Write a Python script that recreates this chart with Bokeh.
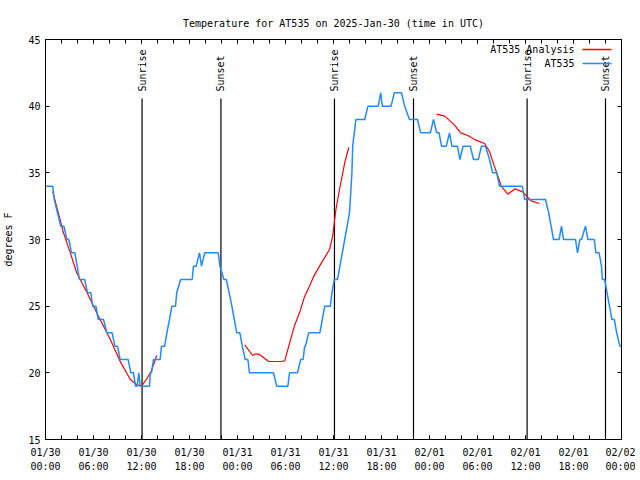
import math
import pandas as pd
from bokeh.plotting import figure
from bokeh.models import (FixedTicker, DatetimeTickFormatter, DatetimeAxis, LinearAxis,
                          Label, Arrow, Range1d, CustomJSTickFormatter)
from bokeh.core.properties import value
from bokeh.embed import file_html
from bokeh.resources import INLINE

START = pd.Timestamp("2025-01-30 00:00")

# observed AT535 temperatures (hours since start, deg F)
obs_hours = [0.1, 0.9, 1.1, 1.5, 1.9, 2.3, 2.67, 2.92, 3.25, 3.67, 3.95, 4.25, 4.9, 5.25, 5.67,
             5.9, 6.3, 6.6, 7.25, 7.67, 8.33, 8.67, 9.0, 9.33, 10.33, 10.67, 11.0, 11.25, 11.45,
             11.67, 11.83, 13.0, 13.1, 13.25, 13.5, 13.83, 14.33, 14.5, 14.9, 15.17, 15.5, 15.8,
             16.25, 16.4, 16.9, 18.33, 18.5, 18.83, 19.25, 19.5, 19.9, 21.6, 21.8, 22.3, 22.6,
             22.96, 23.3, 23.6, 23.9, 24.3, 24.6, 24.96, 25.3, 25.5, 28.5, 28.9, 30.3, 30.5, 31.5,
             31.9, 32.2, 32.4, 32.5, 32.9, 34.3, 34.6, 34.9, 35.6, 35.8, 36.1, 36.5, 36.8, 37.1,
             37.4, 37.7, 38.0, 38.2, 38.3, 38.4, 38.6, 38.8, 39.9, 40.3, 41.6, 41.9, 42.1, 43.2,
             43.6, 44.5, 44.9, 45.5, 46.5, 46.9, 48.1, 48.5, 48.9, 49.2, 49.5, 50.1, 50.5, 50.8,
             51.5, 51.8, 52.2, 53.1, 53.5, 54.1, 54.5, 55.0, 55.5, 55.9, 56.4, 56.75, 59.6, 59.9,
             62.5, 62.9, 63.2, 63.5, 64.2, 64.5, 64.75, 66.25, 66.5, 66.8, 67.0, 67.5, 67.8, 68.6,
             68.8, 69.2, 69.5, 69.6, 69.9, 70.2, 70.5, 70.8, 71.1, 71.4, 71.8, 72.0]
obs_temp = [34, 34, 33, 32, 31, 31, 30, 30, 29, 29, 28, 27, 27, 26, 26,
            25, 25, 24, 24, 23, 23, 22, 22, 21, 21, 20, 20, 19, 19,
            20, 19, 19, 20, 20, 21, 21, 21, 22, 22, 23, 24, 25,
            25, 26, 27, 27, 28, 28, 29, 28, 29, 29, 28, 27, 27,
            26, 25, 24, 23, 23, 22, 21, 21, 20, 20, 19, 19, 20, 20,
            21, 21, 22, 22, 23, 23, 24, 25, 25, 26, 27, 27, 28, 29,
            30, 31, 32, 34, 35, 37, 38, 39, 39, 40, 40, 41, 40, 40,
            41, 41, 40, 39, 39, 38, 38, 39, 38, 38, 37, 37, 38, 37,
            37, 36, 37, 37, 36, 36, 37, 37, 36, 35, 35, 34, 34, 33,
            33, 32, 31, 30, 30, 31, 30, 30, 29, 30, 30, 31, 30, 30,
            29, 29, 28, 27, 27, 26, 25, 24, 24, 23, 22, 22]

# analysis series, three separate runs
ana1_hours = [0.9, 1.6, 2.25, 3.1, 3.9, 5.2, 6.4, 8.1, 9.3, 10.6, 11.4, 12.0, 12.6, 13.2, 13.9]
ana1_temp = [33.6, 32.0, 30.5, 29.0, 27.5, 26.0, 24.5, 22.5, 20.9, 19.5, 19.1, 19.0, 19.5, 20.1, 21.3]
ana2_hours = [24.9, 25.9, 26.2, 26.7, 27.9, 29.4, 29.9, 31.1, 31.75, 32.4, 33.0, 33.5, 34.25,
              35.5, 35.9, 36.3, 36.75, 37.4, 37.9]
ana2_temp = [22.1, 21.3, 21.4, 21.4, 20.85, 20.85, 20.9, 23.5, 24.5, 25.75, 26.5, 27.2, 28.0,
             29.25, 30.25, 32.25, 33.75, 35.75, 36.9]
ana3_hours = [48.9, 49.9, 51.1, 51.9, 52.8, 53.8, 54.9, 55.5, 56.1, 56.7, 56.96, 57.8, 58.7,
              59.7, 60.7, 61.75]
ana3_temp = [39.4, 39.25, 38.6, 38.0, 37.8, 37.45, 37.2, 36.6, 35.5, 34.5, 34.0, 33.4, 33.8,
             33.55, 32.9, 32.7]

sun_hours = [12.07, 21.93, 36.12, 46.0, 60.2, 70.0]
sun_labels = ["Sunrise", "Sunset", "Sunrise", "Sunset", "Sunrise", "Sunset"]

x_major_hours = list(range(0, 73, 6))
x_minor_hours = list(range(0, 73, 2))
y_ticks = [15, 20, 25, 30, 35, 40, 45]


def t(h):
    return START + pd.to_timedelta(h, unit="h")


def ms(h):
    return t(h).timestamp() * 1000.0


FONT = "DejaVu Sans Mono"
FS = "10px"
BLUE = "#1e8cff"

p = figure(frame_width=576, frame_height=400, x_axis_type="datetime",
           x_range=Range1d(t(0), t(72)), y_range=Range1d(15, 45),
           output_backend="svg", toolbar_location=None,
           title="Temperature for AT535 on 2025-Jan-30 (time in UTC)",
           min_border_left=40, min_border_right=14, min_border_top=39, min_border_bottom=22)
p.title.text_font = FONT
p.title.text_font_size = FS
p.title.text_font_style = "normal"
p.title.text_color = "black"
p.title.align = "center"
p.title.standoff = 21
p.grid.visible = False
p.outline_line_color = "black"
p.outline_line_width = 1
p.background_fill_color = "white"
p.border_fill_color = "white"

xticker = FixedTicker(ticks=[ms(h) for h in x_major_hours], minor_ticks=[ms(h) for h in x_minor_hours])
yticker = FixedTicker(ticks=y_ticks, minor_ticks=[])
fmt = "%m/%d\n%H:%M"
xfmt = DatetimeTickFormatter(milliseconds=fmt, seconds=fmt, minsec=fmt, minutes=fmt, hourmin=fmt,
                             hours=fmt, days=fmt, months=fmt, years=fmt)
blank = CustomJSTickFormatter(code="return ''")


def style(ax):
    ax.major_tick_in = 4
    ax.major_tick_out = 0
    ax.minor_tick_in = 4
    ax.minor_tick_out = 0
    ax.axis_line_color = "black"
    ax.major_tick_line_color = "black"
    ax.minor_tick_line_color = "black"
    ax.major_label_text_font = FONT
    ax.major_label_text_font_size = FS
    ax.major_label_text_color = "black"


xa = p.xaxis[0]
xa.ticker = xticker
xa.formatter = xfmt
style(xa)
xa.major_label_standoff = 7
xa.major_label_text_line_height = 1.35

ya = p.yaxis[0]
ya.ticker = yticker
style(ya)
ya.major_label_standoff = 5
ya.axis_label = "degrees F"
ya.axis_label_text_font = FONT
ya.axis_label_text_font_size = FS
ya.axis_label_text_font_style = "normal"
ya.axis_label_text_color = "black"
ya.axis_label_standoff = 11

top = DatetimeAxis(ticker=xticker, formatter=blank)
style(top)
top.major_label_standoff = 0
p.add_layout(top, "above")
right = LinearAxis(ticker=yticker, formatter=blank)
style(right)
right.major_label_standoff = 0
p.add_layout(right, "right")

# sunrise / sunset markers
sun_t = [t(h) for h in sun_hours]
p.segment(x0=sun_t, y0=[15] * len(sun_t), x1=sun_t, y1=[40.58] * len(sun_t),
          line_color="black", line_width=1.2)
p.text(x=sun_t, y=[41.1] * len(sun_t), text=sun_labels, angle=math.pi / 2,
       text_align="left", text_baseline="middle", text_font=value(FONT),
       text_font_size=FS, text_color="black")

# data lines
for hrs, tmp in [(ana1_hours, ana1_temp), (ana2_hours, ana2_temp), (ana3_hours, ana3_temp)]:
    p.line([t(h) for h in hrs], tmp, line_color="red", line_width=1.2)
p.line([t(h) for h in obs_hours], obs_temp, line_color=BLUE, line_width=1.5)

# gnuplot-style key (text left, sample right)
for i, (name, col) in enumerate([("AT535 Analysis", "red"), ("AT535", BLUE)]):
    yy = 390 - 14 * i
    p.add_layout(Label(x=529, y=yy, x_units="screen", y_units="screen", text=name,
                       text_align="right", text_baseline="middle", text_font=FONT,
                       text_font_size=FS, text_color="black"))
    p.add_layout(Arrow(x_start=537, y_start=yy, x_end=566, y_end=yy, start_units="screen",
                       end_units="screen", end=None, line_color=col, line_width=1.5))

open("out.html", "w").write(file_html(p, INLINE))
